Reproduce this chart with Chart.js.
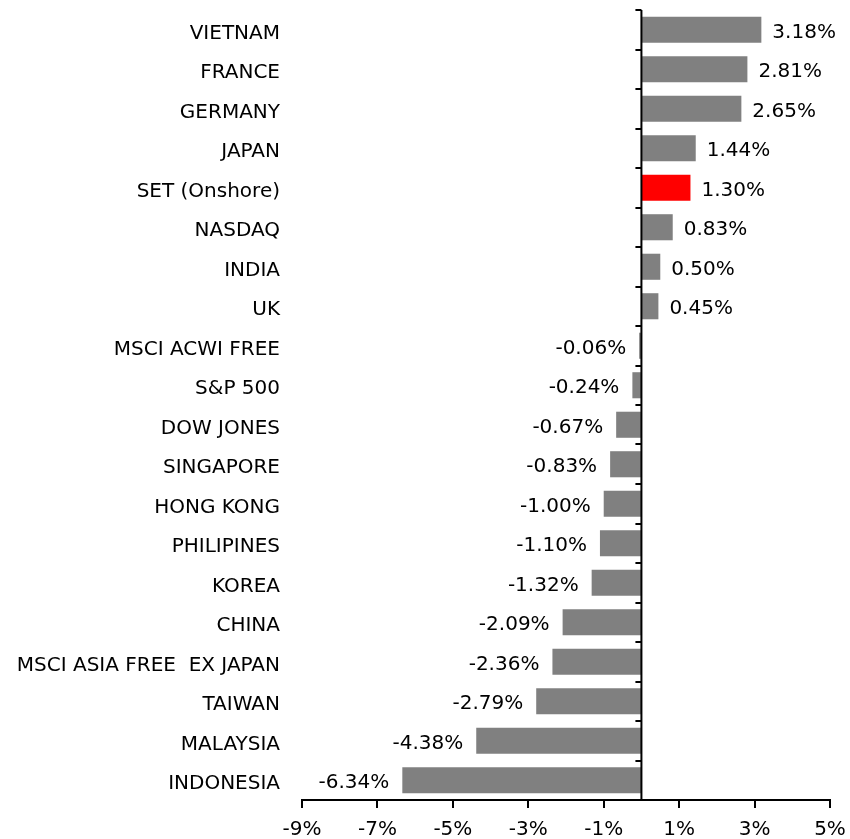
<!DOCTYPE html>
<html>
<head>
<meta charset="utf-8">
<script src="https://cdn.jsdelivr.net/npm/chart.js@4.4.1/dist/chart.umd.min.js"></script>
<style>
  html, body { margin: 0; padding: 0; background: #fff; }
  #wrap { width: 850px; height: 839px; position: relative; }
</style>
</head>
<body>
<div id="wrap"><canvas id="c"></canvas></div>
<script>
// market returns, top to bottom as drawn
const markets = ['VIETNAM', 'FRANCE', 'GERMANY', 'JAPAN', 'SET (Onshore)', 'NASDAQ', 'INDIA', 'UK',
  'MSCI ACWI FREE', 'S&P 500', 'DOW JONES', 'SINGAPORE', 'HONG KONG', 'PHILIPINES', 'KOREA',
  'CHINA', 'MSCI ASIA FREE  EX JAPAN', 'TAIWAN', 'MALAYSIA', 'INDONESIA'];
const returns = [3.18, 2.81, 2.65, 1.44, 1.30, 0.83, 0.50, 0.45, -0.06, -0.24, -0.67, -0.83,
  -1.00, -1.10, -1.32, -2.09, -2.36, -2.79, -4.38, -6.34];
const highlight = 'SET (Onshore)';
const xMin = -9, xMax = 5, xStep = 2;

const FONT = '"DejaVu Sans", Verdana, sans-serif';

// zero line with little category ticks on its left side
const zeroLine = {
  id: 'zeroLine',
  afterDatasetsDraw(chart) {
    const { ctx, scales: { x, y }, chartArea } = chart;
    const x0 = x.getPixelForValue(0);
    ctx.save();
    ctx.strokeStyle = '#000';
    ctx.lineWidth = 2;
    ctx.beginPath();
    ctx.moveTo(x0, chartArea.top);
    ctx.lineTo(x0, chartArea.bottom);
    const n = markets.length;
    const step = (chartArea.bottom - chartArea.top) / n;
    for (let i = 0; i < n; i++) {
      const yy = Math.round(y.getPixelForValue(i) - step / 2);
      ctx.moveTo(x0 - 6, yy);
      ctx.lineTo(x0, yy);
    }
    ctx.stroke();
    ctx.restore();
  }
};

// value labels at the bar ends
const valueLabels = {
  id: 'valueLabels',
  afterDatasetsDraw(chart) {
    const { ctx } = chart;
    const meta = chart.getDatasetMeta(0);
    ctx.save();
    ctx.font = '20px ' + FONT;
    ctx.fillStyle = '#000';
    ctx.textBaseline = 'middle';
    meta.data.forEach((bar, i) => {
      const v = returns[i];
      const txt = v.toFixed(2) + '%';
      if (v >= 0) {
        ctx.textAlign = 'left';
        ctx.fillText(txt, bar.x + 11, bar.y + 3);
      } else {
        ctx.textAlign = 'right';
        ctx.fillText(txt, bar.x - 13, bar.y + 3);
      }
    });
    ctx.restore();
  }
};

new Chart(document.getElementById('c'), {
  type: 'bar',
  data: {
    labels: markets,
    datasets: [{
      data: returns,
      backgroundColor: markets.map(m => m === highlight ? '#ff0000' : '#808080'),
      borderWidth: 0,
      barPercentage: 0.66,
      categoryPercentage: 1
    }]
  },
  options: {
    indexAxis: 'y',
    responsive: true,
    maintainAspectRatio: false,
    animation: false,
    layout: { padding: { top: 10, right: 20, left: 10, bottom: 0 } },
    plugins: { legend: { display: false }, tooltip: { enabled: false } },
    scales: {
      x: {
        min: xMin, max: xMax,
        border: { display: true, color: '#000', width: 2 },
        grid: { display: true, drawOnChartArea: false, drawTicks: true, tickLength: 8, color: '#000', lineWidth: 2 },
        ticks: { stepSize: xStep, color: '#000', font: { family: FONT, size: 20 }, padding: 10,
          callback: v => v + '%' },
        afterFit: s => { s.height = 39; s.paddingLeft = 0; s.paddingRight = 0; }
      },
      y: {
        border: { display: false },
        grid: { display: false },
        ticks: { color: '#000', font: { family: FONT, size: 20 }, padding: 14, labelOffset: 4, autoSkip: false },
        afterFit: s => { s.width = 292; s.paddingTop = 0; s.paddingBottom = 0; }
      }
    }
  },
  plugins: [zeroLine, valueLabels]
});
</script>
</body>
</html>
